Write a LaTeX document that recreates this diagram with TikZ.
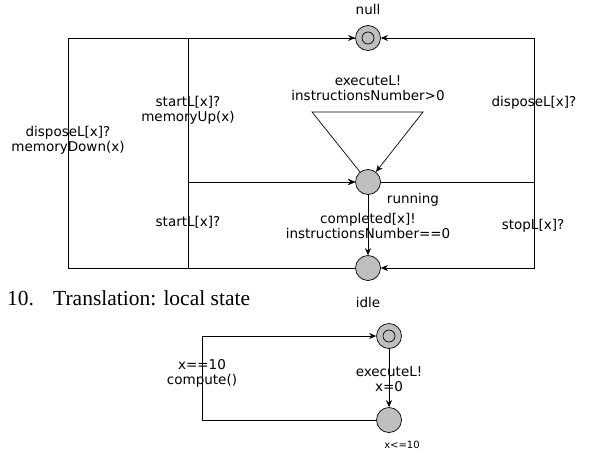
\documentclass[tikz,border=0pt]{standalone}
\usepackage{fontspec}
\setmainfont{DejaVu Sans}
\newfontfamily\captionfont{Liberation Serif}
\usetikzlibrary{arrows.meta,positioning}

\begin{document}
\begin{tikzpicture}[
			x=1pt, y=-1pt,
			loc/.style={circle, draw, fill=black!25, minimum size=25pt, inner sep=0pt, line width=0.7pt},
			innerloc/.style={circle, draw, fill=black!25, minimum size=12pt, inner sep=0pt, line width=0.7pt},
			edge/.style={line width=0.7pt, -{Stealth[length=7pt,width=6pt]}},
			lbl/.style={font=\fontsize{13.5}{15}\selectfont, align=center, inner sep=0pt},
			inv/.style={font=\fontsize{10}{12}\selectfont, inner sep=0pt},
			capt/.style={font=\captionfont\fontsize{21.5}{24}\selectfont, inner sep=0pt, anchor=base west},
			]
			
			\useasboundingbox (0,0) rectangle (593,458);
			
			%% ── Locations (upper automaton) ─────────────────────────────────────────────
			\node[loc] (null) at (368, 38) {};
			\node[innerloc] (nullin) at (null) {};
			\node[loc] (running) at (368, 182) {};
			\node[loc] (idle) at (368, 268) {};
			
			\node[lbl] (nulltxt) at (368, 9) {null};
			\node[lbl] (runtxt) at (413, 200) {running};
			\node[lbl] (idletxt) at (368, 302) {idle};
			
			%% ── Edges to null ───────────────────────────────────────────────────────────
			\draw[edge] (idle) -| (68, 38) -- (null);
			\draw[edge] (running) -| (534, 38) -- (null);
			
			%% ── Edges to running ────────────────────────────────────────────────────────
			\draw[edge] (null) -| (188, 182) -- (running);
			\draw[edge] (idle) -| (188, 182) -- (running);
			\draw[edge] (running) -- (312, 112) -- (423, 112) -- (running);
			
			%% ── Edges to idle ───────────────────────────────────────────────────────────
			\draw[edge] (running) -| (534, 268) -- (idle);
			\draw[edge] (running) -- (idle);
			
			%% ── Guards / syncs ──────────────────────────────────────────────────────────
			\node[lbl] (ldisp) at (68, 140) {disposeL[x]?\\memoryDown(x)};
			\node[lbl] (lstartup) at (188, 110) {startL[x]?\\memoryUp(x)};
			\node[lbl] (lstart) at (188, 222) {startL[x]?};
			\node[lbl] (lexec) at (368, 88) {executeL!\\instructionsNumber>0};
			\node[lbl] (ldispr) at (534, 103) {disposeL[x]?};
			\node[lbl] (lcompl) at (368, 226) {completed[x]!\\instructionsNumber==0};
			\node[lbl] (lstop) at (533, 226) {stopL[x]?};
			
			%% ── Caption ─────────────────────────────────────────────────────────────────
			\node[capt] (capnum) at (7, 305) {10.};
			\node[capt] (captxt) at (53, 305) {Translation: local state};
			
			%% ── Lower automaton ─────────────────────────────────────────────────────────
			\node[loc] (idleb) at (389, 336) {};
			\node[innerloc] (idlebin) at (idleb) {};
			\node[loc] (comp) at (389, 420) {};
			\node[inv] (compinv) at (402, 445) {x<=10};
			
			\draw[edge] (idleb) -- (comp);
			\draw[edge] (comp) -| (202, 336) -- (idleb);
			
			\node[lbl] (lexecb) at (389, 379) {executeL!\\x=0};
			\node[lbl] (lcomp) at (202, 373) {x==10\\compute()};
			
		\end{tikzpicture}
\end{document}
